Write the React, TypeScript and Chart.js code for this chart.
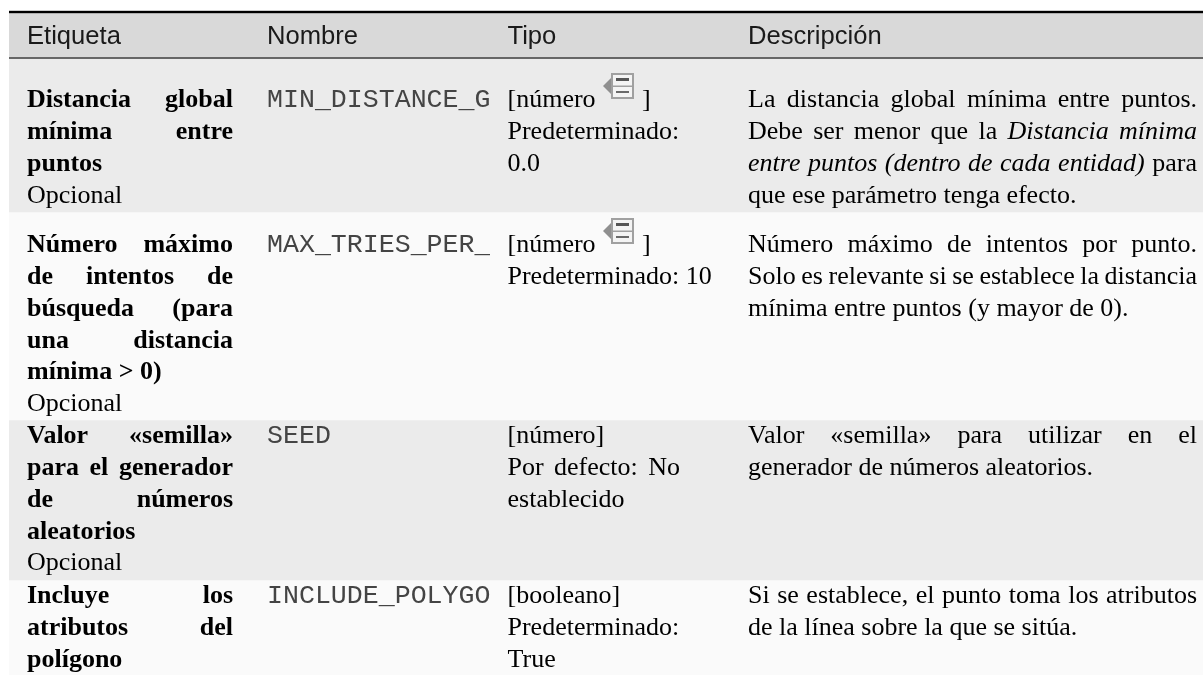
import React, { useEffect, useRef } from "react";
import { Chart, registerables } from "chart.js";

Chart.register(...registerables);

type Line = { text: string; justify?: boolean; bold?: boolean };
type Cell = { column: number; baseline: number; lines: Line[] };

const headers = ["Etiqueta", "Nombre", "Tipo", "Descripción"];
const columnLeft = [27, 267, 507.5, 748];
const columnRight = [233, 490, 680, 1197];
const headerBaseline = 43.5;
const rowBaselines = [107, 252, 443, 603];
const lineStep = 31.85;
const rowBands: [number, number][] = [
  [13, 57],
  [59, 212],
  [212, 420],
  [420, 580],
  [580, 675],
];
const bandColors = ["#d9d9d9", "#ebebeb", "#fafafa", "#ebebeb", "#fafafa"];
const ruleY = [12, 58];
const ruleWidth = [2.4, 1.6];
const ruleColors = ["#000000", "#444444"];
const iconRows = [0, 1];

const labels: Line[][] = [
  [
    { text: "Distancia global", justify: true, bold: true },
    { text: "mínima entre", justify: true, bold: true },
    { text: "puntos", bold: true },
    { text: "Opcional" },
  ],
  [
    { text: "Número máximo", justify: true, bold: true },
    { text: "de intentos de", justify: true, bold: true },
    { text: "búsqueda (para", justify: true, bold: true },
    { text: "una distancia", justify: true, bold: true },
    { text: "mínima > 0)", bold: true },
    { text: "Opcional" },
  ],
  [
    { text: "Valor «semilla»", justify: true, bold: true },
    { text: "para el generador", justify: true, bold: true },
    { text: "de números", justify: true, bold: true },
    { text: "aleatorios", bold: true },
    { text: "Opcional" },
  ],
  [
    { text: "Incluye los", justify: true, bold: true },
    { text: "atributos del", justify: true, bold: true },
    { text: "polígono", bold: true },
  ],
];
const names = ["MIN_DISTANCE_G", "MAX_TRIES_PER_", "SEED", "INCLUDE_POLYGO"];
const types: Line[][] = [
  [{ text: "[número" }, { text: "Predeterminado:" }, { text: "0.0" }],
  [{ text: "[número" }, { text: "Predeterminado: 10" }],
  [{ text: "[número]" }, { text: "Por defecto: No", justify: true }, { text: "establecido" }],
  [{ text: "[booleano]" }, { text: "Predeterminado:" }, { text: "True" }],
];
const descriptions: Line[][] = [
  [
    { text: "La distancia global mínima entre puntos.", justify: true },
    { text: "Debe ser menor que la *Distancia mínima*", justify: true },
    { text: "*entre puntos (dentro de cada entidad)* para", justify: true },
    { text: "que ese parámetro tenga efecto." },
  ],
  [
    { text: "Número máximo de intentos por punto.", justify: true },
    { text: "Solo es relevante si se establece la distancia", justify: true },
    { text: "mínima entre puntos (y mayor de 0)." },
  ],
  [
    { text: "Valor «semilla» para utilizar en el", justify: true },
    { text: "generador de números aleatorios." },
  ],
  [
    { text: "Si se establece, el punto toma los atributos", justify: true },
    { text: "de la línea sobre la que se sitúa." },
  ],
];

const SERIF = '"Liberation Serif"';
const SIZE = 26;

function parseWords(text: string) {
  const out: { word: string; italic: boolean }[] = [];
  let italic = false;
  for (const raw of text.split(" ")) {
    let w = raw;
    const start = w.startsWith("*");
    if (start) {
      italic = true;
      w = w.slice(1);
    }
    const end = w.endsWith("*");
    if (end) w = w.slice(0, -1);
    out.push({ word: w, italic });
    if (end) italic = false;
  }
  return out;
}

function drawLine(ctx: CanvasRenderingContext2D, line: Line, xL: number, xR: number, y: number) {
  const fontFor = (italic: boolean) =>
    `${italic ? "italic " : ""}${line.bold ? "bold " : ""}${SIZE}px ${SERIF}`;
  const words = parseWords(line.text);
  const widths = words.map((w) => {
    ctx.font = fontFor(w.italic);
    return ctx.measureText(w.word).width;
  });
  ctx.font = fontFor(false);
  const natural = ctx.measureText(" ").width;
  const total = widths.reduce((a, b) => a + b, 0);
  const gap = line.justify && words.length > 1 ? (xR - xL - total) / (words.length - 1) : natural;
  let x = xL;
  words.forEach((w, i) => {
    ctx.font = fontFor(w.italic);
    ctx.fillText(w.word, x, y);
    x += widths[i] + gap;
  });
}

function drawIcon(ctx: CanvasRenderingContext2D, x: number, y: number) {
  ctx.save();
  ctx.fillStyle = "#8f8f8f";
  ctx.beginPath();
  ctx.moveTo(x, y + 13);
  ctx.lineTo(x + 9, y + 4);
  ctx.lineTo(x + 9, y + 22);
  ctx.closePath();
  ctx.fill();
  ctx.fillStyle = "#f4f4f4";
  ctx.strokeStyle = "#a0a0a0";
  ctx.lineWidth = 2;
  ctx.fillRect(x + 9, y + 1, 21, 24);
  ctx.strokeRect(x + 9, y + 1, 21, 24);
  ctx.fillStyle = "#a0a0a0";
  ctx.fillRect(x + 9, y + 12.5, 21, 1.5);
  ctx.fillStyle = "#555555";
  ctx.fillRect(x + 13, y + 5, 13, 3);
  ctx.fillStyle = "#6a6a6a";
  ctx.fillRect(x + 13, y + 18, 13, 2);
  ctx.restore();
}

const tablePlugin = {
  id: "tableText",
  afterDatasetsDraw(chart: any) {
    const ctx: CanvasRenderingContext2D = chart.ctx;
    const sx = chart.scales.xText;
    const sy = chart.scales.y;
    const px = (v: number) => sx.getPixelForValue(v);
    const py = (v: number) => sy.getPixelForValue(v);
    ctx.save();
    ctx.textBaseline = "alphabetic";
    ctx.textAlign = "left";

    ruleY.forEach((y, i) => {
      ctx.fillStyle = ruleColors[i];
      const h = ruleWidth[i];
      ctx.fillRect(chart.chartArea.left, py(y) - h / 2, chart.chartArea.width, h);
    });

    ctx.fillStyle = "#1a1a1a";
    ctx.font = `25.6px "Liberation Sans"`;
    headers.forEach((h, i) => ctx.fillText(h, px(columnLeft[i]), py(headerBaseline)));

    ctx.fillStyle = "#000000";
    const cells: Cell[] = [];
    rowBaselines.forEach((b, r) => {
      cells.push({ column: 0, baseline: b, lines: labels[r] });
      cells.push({ column: 2, baseline: b, lines: types[r] });
      cells.push({ column: 3, baseline: b, lines: descriptions[r] });
    });
    cells.forEach((c) => {
      c.lines.forEach((line, i) => {
        drawLine(ctx, line, px(columnLeft[c.column]), px(columnRight[c.column]), py(c.baseline + i * lineStep));
      });
    });

    names.forEach((n, r) => {
      ctx.save();
      ctx.beginPath();
      ctx.rect(px(columnLeft[1]), py(rowBaselines[r] - 30), px(columnRight[1]) - px(columnLeft[1]), 40);
      ctx.clip();
      ctx.fillStyle = "#444444";
      ctx.font = '26.6px "Liberation Mono"';
      ctx.fillText(n, px(columnLeft[1]), py(rowBaselines[r]));
      ctx.restore();
    });

    iconRows.forEach((r) => {
      const b = rowBaselines[r];
      drawIcon(ctx, px(603), py(b - 34));
      ctx.fillStyle = "#000000";
      ctx.font = `${SIZE}px ${SERIF}`;
      ctx.fillText("]", px(642), py(b));
    });
    ctx.restore();
  },
};

export default function App() {
  const ref = useRef<HTMLCanvasElement>(null);
  useEffect(() => {
    const chart = new Chart(ref.current!, {
      type: "bar",
      data: {
        labels: ["Tabla"],
        datasets: rowBands.map((band, i) => ({
          label: i === 0 ? "Cabecera" : `Fila ${i}`,
          data: [band],
          backgroundColor: bandColors[i],
          borderWidth: 0,
          barPercentage: 1,
          categoryPercentage: 1,
          grouped: false,
        })),
      },
      options: {
        responsive: false,
        animation: false,
        layout: { padding: { left: 9, right: 0, top: 0, bottom: 0 } },
        plugins: { legend: { display: false }, title: { display: false }, tooltip: { enabled: false } },
        scales: {
          x: { display: false },
          xText: { type: "linear", display: false, min: 9, max: 1203, axis: "x", offset: false },
          y: { display: false, min: 0, max: 675, reverse: true },
        },
      } as any,
      plugins: [tablePlugin],
    });
    return () => chart.destroy();
  }, []);
  return (
    <div style={{ position: "absolute", left: 0, top: 0, width: 1203, height: 675, background: "#ffffff" }}>
      <canvas ref={ref} width={1203} height={675} style={{ display: "block" }} />
    </div>
  );
}
